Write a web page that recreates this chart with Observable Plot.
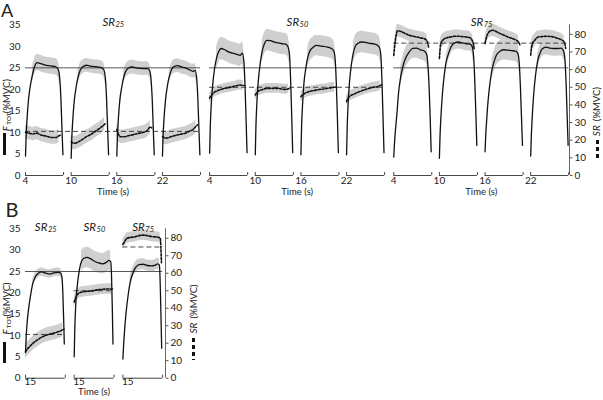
<!DOCTYPE html>
<html><head><meta charset="utf-8">
<script src="https://cdn.jsdelivr.net/npm/d3@7"></script>
<script src="https://cdn.jsdelivr.net/npm/@observablehq/plot@0.6"></script>
<style>
body{margin:0;background:#fff;}
#wrap{position:relative;width:603px;height:400px;overflow:hidden;}
#wrap svg{position:absolute;left:0;overflow:visible;}
.key{position:absolute;}
</style></head><body><div id="wrap"></div>
<script>
// ---------------- data ----------------
const groupSubs = ["25", "50", "75"];          // SR targets (%MVC), title subscripts
const srTargets = [25, 50, 75];                // dashed target lines (SR, %MVC)
const forceTarget = 25;                        // solid target line (F_TOT, %MVC)
const forceTicks = [0, 5, 10, 15, 20, 25, 30, 35];
const srTicks = [0, 10, 20, 30, 40, 50, 60, 70, 80];
const SR_PER_F = 2.44;                         // right axis relation: SR = 2.44 * F

// Panel A: 3 groups x 4 trials, each trial 5 s long
const trialStartsA = [4, 10, 16, 22];
const trialLenA = 5;
const tForceA = [0, 0.08, 0.2, 0.4, 0.65, 0.9, 1.2, 1.5, 2.0, 2.5, 3.0, 3.5, 4.0, 4.3, 4.5, 4.65, 4.8, 4.92];
const forceA = [
  // SR25
  [4.5, 9, 13, 17.7, 21, 23.3, 25.3, 26.2, 26.0, 25.7, 25.5, 25.4, 25.2, 24.6, 22.5, 18, 10.5, 4.8],
  [4.0, 8.5, 12.5, 17.2, 20.5, 22.8, 24.5, 25.2, 25.6, 25.4, 25.3, 25.2, 25.0, 24.5, 22.5, 18, 10.5, 4.8],
  [4.5, 9, 13, 17.5, 20.5, 22.8, 24.3, 24.9, 25.2, 25.0, 24.9, 24.8, 24.8, 24.4, 22.3, 18, 10.5, 4.8],
  [4.5, 9, 13, 17.5, 20.8, 23.0, 24.6, 25.3, 25.5, 25.2, 25.0, 24.6, 24.2, 24.4, 22.5, 18, 10.5, 4.8],
  // SR50
  [5.2, 11, 16, 21, 24.8, 27.2, 28.8, 29.5, 29.2, 28.7, 28.4, 28.2, 27.9, 28.4, 26.5, 21, 12.5, 5.3],
  [4.8, 11, 16.5, 22, 26, 28.8, 30.6, 31.4, 31.3, 31.0, 30.8, 30.6, 30.5, 29.9, 28, 22, 13, 5.3],
  [4.8, 11, 16, 21.5, 25, 27.5, 29.0, 29.6, 30.2, 30.1, 30.0, 29.8, 29.5, 29.0, 27, 21.5, 13, 5.3],
  [4.8, 11, 16.5, 22, 26, 28.6, 30.2, 30.7, 31.0, 30.9, 30.7, 30.6, 30.3, 29.8, 28, 22, 13, 5.3],
  // SR75
  [4.3, 7, 10, 14, 19.5, 22.8, 25.3, 27, 28.6, 29.5, 29.6, 29.2, 28.9, 28.3, 25.5, 20.5, 12.8, 5.5],
  [4, 9, 13.5, 19, 23.5, 26.5, 28.3, 29.8, 30.8, 31.0, 30.8, 30.6, 30.5, 30.0, 27.5, 22, 14, 7],
  [5.5, 9, 12.5, 17.4, 21.5, 24.5, 26.5, 28.0, 28.9, 29.2, 29.1, 29.0, 28.9, 28.4, 26, 20.5, 13, 7],
  [4.5, 9, 13.5, 19, 23.5, 26.5, 28.3, 29.4, 29.8, 29.6, 29.5, 29.5, 29.6, 29.0, 27, 21.5, 13.5, 7]
];
const forceSdA = [1.9, 1.6, 1.6, 1.6, 2.6, 2.5, 2.4, 2.5, 2.3, 1.6, 2.4, 1.8];
const tSrA = [0, 0.2, 0.5, 1.0, 1.5, 2.0, 2.5, 3.0, 3.5, 4.0, 4.4, 4.6];
const srA = [
  // SR25
  [24.5, 24.3, 24, 23.5, 24, 23, 22.5, 22, 21.5, 21.5, 22.5, 23],
  [19, 18.5, 18.3, 19.2, 20.5, 22, 23, 24.5, 26, 27.5, 29, 30],
  [26, 23.5, 22, 22, 22.5, 23, 23.5, 24, 24.5, 25.5, 27.5, 27],
  [22, 21.5, 21.2, 21.8, 22.5, 23, 23.5, 24, 25, 26, 27.8, 28.7],
  // SR50
  [43.8, 45.2, 46.8, 48, 48.8, 49.4, 49.8, 50.3, 50.8, 51.3, 51, 51],
  [45.6, 47, 48, 48.8, 49.4, 49.4, 49.4, 49.4, 49, 48.8, 49.2, 49.4],
  [44.7, 45.5, 46.5, 47.5, 48, 48.4, 48.8, 49, 49.4, 49.8, 50, 50.3],
  [41.9, 43.8, 45.2, 46.2, 47.2, 48, 48.8, 49.4, 50, 50.3, 51, 51.3],
  // SR75
  [68, 76, 82, 81.5, 80.5, 79.5, 79, 78.5, 78, 77.5, 76, 72],
  [66.3, 75, 76.9, 78.1, 78.5, 78.9, 78.9, 78.7, 78.5, 78.1, 75.7, 71],
  [75, 78.5, 81.3, 82.3, 81.5, 80.4, 79.5, 78.5, 77.8, 76.9, 75.7, 73.8],
  [68.2, 74.5, 76.5, 78.5, 78.7, 78.9, 78.8, 78.5, 77.8, 77, 75.7, 72]
];
const srSdA = [3.8, 3.8, 3.8, 3.8, 2.8, 2.8, 2.8, 2.8, 3.5, 3.5, 3.5, 3.5];

// Panel B: one averaged trial per group, 15 s mark
const trialStartB = 14.4;
const tickLabelB = 15;
const trialLenB = 4.9;
const tForceB = [0, 0.08, 0.2, 0.4, 0.65, 0.9, 1.2, 1.6, 2.0, 2.5, 3.0, 3.5, 4.0, 4.3, 4.5, 4.6, 4.7, 4.78];
const forceB = [
  [6, 9.5, 13, 16.5, 19.7, 22.2, 23.7, 24.6, 24.9, 24.6, 24.4, 24.7, 24.8, 24.7, 23.5, 20, 14, 8],
  [5, 12, 17.5, 22, 25.5, 27.4, 28.1, 28.3, 28.0, 27.4, 27.0, 26.8, 27.2, 27.6, 27.3, 24, 16, 8],
  [4.5, 7.5, 11, 15.5, 19.5, 22.5, 24.5, 26.0, 26.6, 26.7, 26.4, 26.3, 26.5, 26.8, 26.5, 22, 14, 7]
];
const forceSdB = [1.0, 2.4, 1.3];
const tSrB = [0, 0.2, 0.5, 1.0, 1.5, 2.0, 2.5, 3.0, 3.5, 4.0, 4.4, 4.6, 4.75];
const srB = [
  [15, 16.5, 18, 20.3, 22, 23.5, 24.5, 25.2, 25.8, 26.5, 27.2, 27.8, 28],
  [43.6, 46, 48.3, 49.3, 49.6, 49.8, 50.2, 50.6, 50.8, 51, 51, 51, 51],
  [76.5, 78, 80, 80.5, 80.8, 81.5, 81.8, 81.5, 81, 80.8, 80.5, 80, 66]
];
const srSdB = [4, 3, 3];

// ---------------- layout (not data) ----------------
const GAP_A = 24.2;   // seconds between group blocks on panel A's shared time axis
const GAP_B = 6.0;    // seconds between sub-panels on panel B's shared time axis
const FONT = "Lato, 'Open Sans', sans-serif";

// ---------------- build rows ----------------
function build(trials, forceT, forceV, forceSd, srT, srV, srSd, bandF, bandS) {
  const P = {fRows: [], fBand: [], sRows: [], sBand: []};
  trials.forEach((tr, id) => {
    forceT.forEach((t, i) => {
      const v = forceV[id][i];
      P.fRows.push({z: id, x: tr.t0 + t, y: v});
      if (t >= bandF[0] && t <= bandF[1]) P.fBand.push({z: id, x: tr.t0 + t, y1: v - forceSd[id], y2: v + forceSd[id]});
    });
    srT.forEach((t, i) => {
      const v = srV[id][i];
      P.sRows.push({z: id, x: tr.t0 + t, y: v / SR_PER_F});
      if (t >= bandS[0] && t <= bandS[1]) P.sBand.push({z: id, x: tr.t0 + t, y1: (v - srSd[id]) / SR_PER_F, y2: (v + srSd[id]) / SR_PER_F});
    });
  });
  return P;
}

function commonMarks(P, segs, xEnd) {
  const ends = segs.flatMap(s => [{x: s.x1}, {x: s.x2}]);
  return [
    Plot.areaY(P.fBand, {x: "x", y1: "y1", y2: "y2", z: "z", fill: "#cfcfcf", curve: "monotone-x"}),
    Plot.areaY(P.sBand, {x: "x", y1: "y1", y2: "y2", z: "z", fill: "#cfcfcf", curve: "monotone-x"}),
    Plot.ruleY(P.solid, {y: "y", x1: "x1", x2: "x2", stroke: "#444", strokeWidth: 0.9}),
    Plot.ruleY(P.dashed, {y: "y", x1: "x1", x2: "x2", stroke: "#333", strokeWidth: 0.9, strokeDasharray: "5,3"}),
    Plot.ruleY(segs, {y: 0, x1: "x1", x2: "x2", stroke: "#333", strokeWidth: 0.9}),
    Plot.ruleX(ends, {x: "x", y1: 0, y2: 0.7, stroke: "#333", strokeWidth: 0.9}),
    Plot.line(P.fRows, {x: "x", y: "y", z: "z", stroke: "#111", strokeWidth: 1.3, curve: "monotone-x"}),
    Plot.line(P.sRows, {x: "x", y: "y", z: "z", stroke: "#111", strokeWidth: 1.6, strokeDasharray: "2.2,1.6", curve: "monotone-x"}),
    Plot.ruleX([xEnd], {y1: 0, y2: 35, stroke: "#555", strokeWidth: 0.9}),
    Plot.axisY(forceTicks, {anchor: "left", tickSize: 0, tickPadding: 5, label: null, fontSize: 10}),
    Plot.axisY(srTicks.map(v => v / SR_PER_F), {anchor: "right", tickSize: 2.5, tickPadding: 2.5, label: null,
      stroke: "#555", fontSize: 10, tickFormat: d => String(Math.round(d * SR_PER_F))})
  ];
}

function yLabels(leftDy, rightDy, rightDx) {
  return [
    Plot.text(["F"], {frameAnchor: "left", dx: -19, dy: leftDy, rotate: -90, textAnchor: "start", fontStyle: "italic", fontSize: 10}),
    Plot.text(["TOT"], {frameAnchor: "left", dx: -16.5, dy: leftDy - 6.3, rotate: -90, textAnchor: "start", fontSize: 6.5}),
    Plot.text(["(%MVC)"], {frameAnchor: "left", dx: -19, dy: leftDy - 18, rotate: -90, textAnchor: "start", fontSize: 9.5}),
    Plot.text(["SR"], {frameAnchor: "right", dx: rightDx, dy: rightDy, rotate: -90, textAnchor: "start", fontStyle: "italic", fontSize: 10}),
    Plot.text(["(%MVC)"], {frameAnchor: "right", dx: rightDx, dy: rightDy - 15, rotate: -90, textAnchor: "start", fontSize: 9.5})
  ];
}

function titleMarks(centers, subs, dy) {
  const rows = subs.map((s, i) => ({x: centers[i], s}));
  return [
    Plot.text(rows, {x: "x", text: () => "SR", frameAnchor: "top", dx: 2, dy: dy, textAnchor: "end", fontStyle: "italic", fontSize: 11.5}),
    Plot.text(rows, {x: "x", text: "s", frameAnchor: "top", dx: 2.5, dy: dy + 3.5, textAnchor: "start", fontStyle: "italic", fontSize: 7.5})
  ];
}

// ---------------- Panel A ----------------
const trialsA = [];
groupSubs.forEach((g, gi) => trialStartsA.forEach((s, k) => trialsA.push({g: gi, t0: s + gi * GAP_A, label: String(s)})));
const PA = build(trialsA, tForceA, forceA, forceSdA, tSrA, srA, srSdA, [0.9, 4.5], [0, 4.4]);
const groupSpanA = groupSubs.map((g, gi) => ({x1: trialStartsA[0] + gi * GAP_A, x2: trialStartsA[3] + trialLenA + gi * GAP_A}));
PA.solid = groupSpanA.map(s => ({...s, y: forceTarget}));
PA.dashed = groupSpanA.map((s, gi) => ({...s, y: srTargets[gi] / SR_PER_F}));
const segsA = trialsA.map(t => ({x1: t.t0, x2: t.t0 + trialLenA, label: t.label}));
const xEndA = trialStartsA[3] + trialLenA + 2 * GAP_A + 0.1;
const centersA = groupSpanA.map(s => (s.x1 + s.x2) / 2);

const plotA = Plot.plot({
  width: 603, height: 200,
  marginLeft: 25, marginRight: 603 - 569, marginTop: 24.3, marginBottom: 25,
  x: {domain: [trialStartsA[0], xEndA], axis: null},
  y: {domain: [0, 35]},
  style: {fontFamily: FONT, fontSize: "10px", color: "#222", background: "transparent", overflow: "visible"},
  marks: [
    ...commonMarks(PA, segsA, xEndA),
    Plot.text(segsA, {x: "x1", text: "label", frameAnchor: "bottom", dy: 8, fontSize: 10}),
    Plot.text(centersA, {x: d => d, text: () => "Time (s)", frameAnchor: "bottom", dy: 19, fontSize: 9.5}),
    ...titleMarks(centersA, groupSubs, -7),
    Plot.text(["A"], {frameAnchor: "top-left", dx: -24.5, dy: -21, textAnchor: "start", fontSize: 18}),
    ...yLabels(31, 36, 27)
  ]
});
plotA.style.top = "0px";

// ---------------- Panel B ----------------
const trialsB = groupSubs.map((g, gi) => ({g: gi, t0: trialStartB + gi * GAP_B, label: String(tickLabelB), lx: tickLabelB + gi * GAP_B}));
const PB = build(trialsB, tForceB, forceB, forceSdB, tSrB, srB, srSdB, [0.9, 4.5], [0, 4.6]);
const segsB = trialsB.map(t => ({x1: t.t0, x2: t.t0 + trialLenB, label: t.label, lx: t.lx}));
PB.solid = [{x1: segsB[0].x1, x2: segsB[2].x2, y: forceTarget}];
PB.dashed = segsB.map((s, gi) => ({x1: s.x1, x2: s.x2, y: srTargets[gi] / SR_PER_F}));
const xEndB = trialStartB + 2 * GAP_B + trialLenB + 0.35;
const centersB = segsB.map(s => (s.x1 + s.x2) / 2);

const plotB = Plot.plot({
  width: 210, height: 205,
  marginLeft: 25, marginRight: 210 - 165, marginTop: 33.3, marginBottom: 22.3,
  x: {domain: [trialStartB, xEndB], axis: null},
  y: {domain: [0, 35]},
  style: {fontFamily: FONT, fontSize: "10px", color: "#222", background: "transparent", overflow: "visible"},
  marks: [
    ...commonMarks(PB, segsB, xEndB),
    Plot.text(segsB, {x: "lx", text: "label", frameAnchor: "bottom", dy: 7, fontSize: 10}),
    Plot.text([centersB[1]], {x: d => d, text: () => "Time (s)", frameAnchor: "bottom", dy: 17, fontSize: 9.5}),
    ...titleMarks(centersB, groupSubs, -6),
    Plot.text(["B"], {frameAnchor: "top-left", dx: -20, dy: -26, textAnchor: "start", fontSize: 20}),
    ...yLabels(31, 30, 28)
  ]
});
plotB.style.top = "195px";

const wrap = document.getElementById("wrap");
wrap.appendChild(plotA);
wrap.appendChild(plotB);

// legend keys: solid = F_TOT, dashed = SR
function key(left, top, h, dashed) {
  const d = document.createElement("div");
  d.className = "key";
  d.style.left = left + "px"; d.style.top = top + "px";
  d.style.width = (dashed ? 3 : 2.5) + "px"; d.style.height = h + "px";
  d.style.background = dashed ? "repeating-linear-gradient(to bottom, #111 0 4px, transparent 4px 7px)" : "#111";
  wrap.appendChild(d);
}
key(3, 133, 22, false);
key(595.5, 140, 19, true);
key(3, 342, 21, false);
key(191.5, 338, 22, true);
</script>
</body></html>
